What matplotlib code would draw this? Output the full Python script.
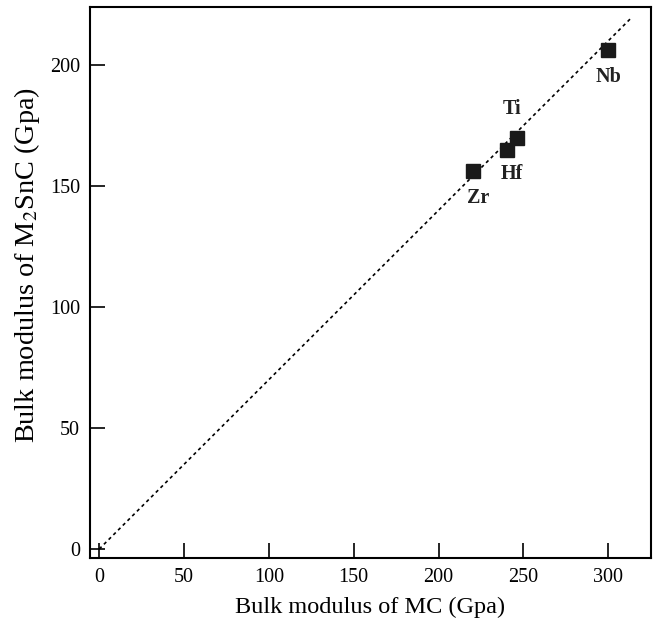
import numpy as np
import matplotlib
matplotlib.use("Agg")
import matplotlib.pyplot as plt

plt.rcParams['font.family'] = ['Liberation Serif', 'DejaVu Serif']
plt.rcParams['mathtext.fontset'] = 'stix'

# data
metals = ["Nb", "Ti", "Hf", "Zr"]
b_mc = [300, 246, 240, 220]
b_m2snc = [206, 170, 165, 156]
label_x = [300, 243, 243, 223]
label_y = [195, 182, 155, 145]
fit_x = [0, 313]
fit_slope = 0.70

fig = plt.figure(figsize=(6.56, 6.28), dpi=100)
ax = fig.add_axes([0.137, 0.1115, 0.855, 0.8775])

ax.plot(fit_x, [fit_slope * v for v in fit_x], color="black", lw=1.2,
        linestyle=(0, (2, 2)))
ax.plot(b_mc, b_m2snc, "s", color="#1a1a1a", markersize=9.5)
for name, lx, ly in zip(metals, label_x, label_y):
    ax.text(lx, ly, name, ha="center", va="center", fontsize=14.5,
            fontweight="bold", color="#222222")

ax.set_xlim(-5.5, 325)
ax.set_ylim(-3.7, 224)
ax.set_xticks([0, 50, 100, 150, 200, 250, 300])
ax.set_yticks([0, 50, 100, 150, 200])
ax.tick_params(direction="in", length=11, width=1.2, labelsize=14.5, pad=7)
for s in ax.spines.values():
    s.set_linewidth(1.5)

ax.set_xlabel("Bulk modulus of MC (Gpa)", fontsize=17.5, labelpad=7)
ax.set_ylabel("Bulk modulus of M$_2$SnC (Gpa)", fontsize=20.3)
ax.yaxis.set_label_coords(-0.086, 0.532)

fig.savefig("out.png", dpi=100)
